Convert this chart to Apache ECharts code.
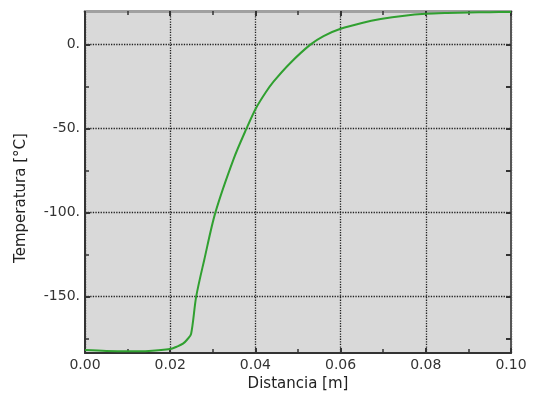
<!DOCTYPE html>
<html>
<head>
<meta charset="utf-8">
<script src="https://cdn.jsdelivr.net/npm/echarts@6/dist/echarts.min.js"></script>
<style>
  html, body {margin: 0; padding: 0; background: #fff;}
  #chart {width: 533px; height: 397px;}
</style>
</head>
<body>
<div id="chart"></div>
<script>
// distance [m] and temperature [°C]
const distance = [0, 0.005, 0.01, 0.015, 0.02, 0.0215, 0.023, 0.024, 0.0249, 0.0261, 0.028, 0.0306, 0.0349,
  0.0379, 0.0401, 0.0424, 0.0443, 0.0482, 0.0529, 0.056, 0.06, 0.065, 0.0694, 0.075, 0.08, 0.085, 0.09, 0.095, 0.10];
const temperature = [-181.8, -182.3, -182.5, -182.3, -181.2, -179.8, -178, -175.5, -172.2, -150, -128, -100, -68,
  -50, -38, -28.5, -21.9, -10.9, 0, 5.1, 9.4, 12.9, 15.2, 17.2, 18.3, 18.8, 19.1, 19.3, 19.4];
const xTicks = [0, 0.02, 0.04, 0.06, 0.08, 0.10];
const yTicks = [-150, -100, -50, 0];
const yMinorTicks = [-175, -125, -75, -25];

const chart = echarts.init(document.getElementById('chart'));
const labelFont = {color: '#333', fontSize: 14, fontFamily: 'DejaVu Sans'};
const titleFont = {color: '#222', fontSize: 15, fontFamily: 'DejaVu Sans'};
const grid = {type: 'dotted', color: '#222', width: 1.3};
const tick = {show: true, inside: true, length: 5, lineStyle: {color: '#333', width: 2}};
const minor = {show: true, splitNumber: 2, length: 4, lineStyle: {color: '#333', width: 1.5}};
const yRange = {type: 'value', min: -183.6, max: 20, splitNumber: 4};

chart.setOption({
  animation: false,
  backgroundColor: '#fff',
  grid: {
    left: 85, right: 22, top: 11, bottom: 41,
    show: true, backgroundColor: '#d9d9d9', borderColor: '#888', borderWidth: 1
  },
  xAxis: [{
    type: 'value', min: 0, max: 0.1, interval: 0.02,
    name: 'Distancia [m]', nameLocation: 'middle', nameGap: 22,
    nameTextStyle: titleFont,
    axisLine: {show: true, onZero: false, lineStyle: {color: '#333', width: 2}},
    axisTick: tick, minorTick: minor,
    axisLabel: {...labelFont, margin: 5, formatter: v => xTicks.some(t => Math.abs(t - v) < 1e-9) ? v.toFixed(2) : ''},
    splitLine: {show: true, lineStyle: grid}
  }, {
    type: 'value', min: 0, max: 0.1, interval: 0.02, position: 'top',
    axisLine: {show: true, onZero: false, lineStyle: {color: '#a0a0a0', width: 3}},
    axisTick: tick, minorTick: minor,
    axisLabel: {show: false}, splitLine: {show: false}
  }],
  yAxis: [{
    ...yRange,
    name: 'Temperatura [°C]', nameLocation: 'middle', nameGap: 56, nameRotate: 90,
    nameTextStyle: {...titleFont, padding: [0, 32, 0, 0]},
    axisLine: {show: true, onZero: false, lineStyle: {color: '#333', width: 2}},
    axisTick: {...tick, customValues: yTicks},
    axisLabel: {...labelFont, margin: 5, customValues: yTicks, formatter: v => v + '.'},
    splitLine: {show: true, lineStyle: grid}
  }, {
    ...yRange, position: 'left',
    axisLine: {show: false},
    axisTick: {...minor, inside: true, customValues: yMinorTicks},
    axisLabel: {show: false}, splitLine: {show: false}
  }, {
    ...yRange, position: 'right',
    axisLine: {show: true, onZero: false, lineStyle: {color: '#555', width: 2}},
    axisTick: {...tick, customValues: yTicks.concat(yMinorTicks)},
    axisLabel: {show: false}, splitLine: {show: false}
  }],
  series: [{
    type: 'line',
    data: distance.map((d, i) => [d, temperature[i]]),
    showSymbol: false,
    smooth: 0.3,
    lineStyle: {color: '#30a030', width: 2},
    z: 5
  }]
});
</script>
</body>
</html>
